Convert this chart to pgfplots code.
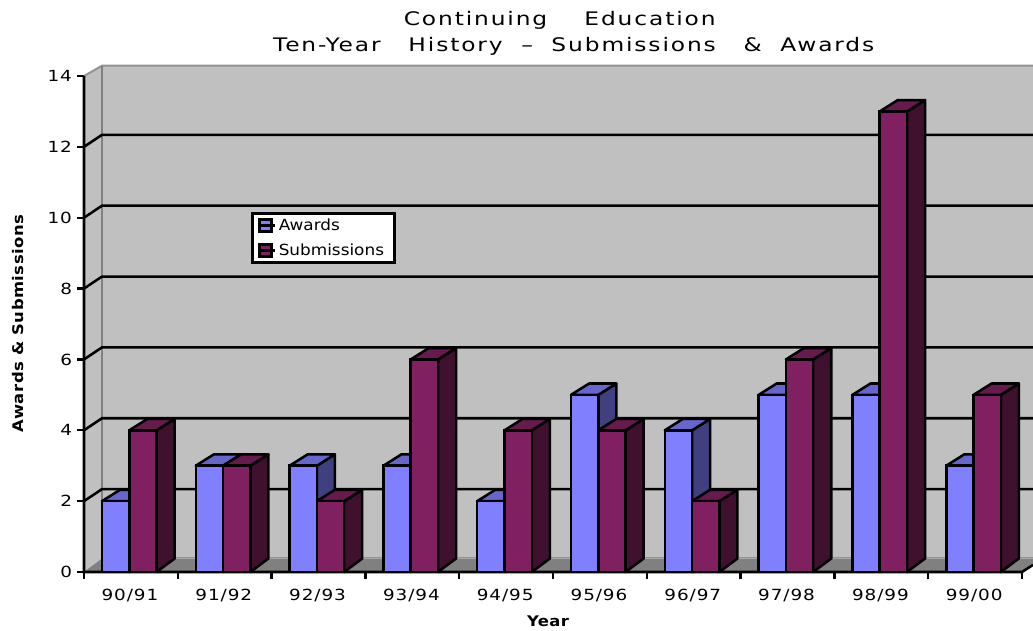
\documentclass[border=0pt]{standalone}
\usepackage{pgfplots}
\usepackage{pgfplotstable}
\pgfplotsset{compat=1.18}
\usepackage{fontspec}
\setmainfont{DejaVu Sans}
\newfontfamily\wide[FakeStretch=1.2,LetterSpace=6]{DejaVu Sans}
\newfontfamily\titlef[FakeStretch=1.25,LetterSpace=10]{DejaVu Sans}
\newfontfamily\legf[FakeStretch=1.1]{DejaVu Sans}
\newfontfamily\wideb[FakeStretch=1.12,LetterSpace=3]{DejaVu Sans Bold}
\definecolor{awF}{HTML}{8080FF}
\definecolor{awT}{HTML}{6666CC}
\definecolor{awS}{HTML}{404080}
\definecolor{suF}{HTML}{802060}
\definecolor{suT}{HTML}{661A4D}
\definecolor{suS}{HTML}{40102F}
\definecolor{wall}{HTML}{C0C0C0}
\definecolor{floorc}{HTML}{808080}
\pgfplotstableread{
idx label awards submissions
0 90/91 2 4
1 91/92 3 3
2 92/93 3 2
3 93/94 3 6
4 94/95 2 4
5 95/96 5 4
6 96/97 4 2
7 97/98 5 6
8 98/99 5 13
9 99/00 3 5
}\datatable
% side and top faces of a bar: #1 left x, #2 value, #3 top colour, #4 side colour
\newcommand\barfaces[4]{%
  \pgfmathsetmacro\xa{#1}%
  \pgfmathsetmacro\xb{#1+0.291}%
  \pgfmathsetmacro\xc{#1+0.291+0.192}%
  \pgfmathsetmacro\xd{#1+0.192}%
  \pgfmathsetmacro\yt{#2}%
  \pgfmathsetmacro\yu{#2+0.32}%
  \edef\doit{\noexpand\addplot[forget plot,fill=#4,draw=black,line width=1.9pt,line join=round] coordinates {(\xb,0) (\xc,0.38) (\xc,\yu) (\xb,\yt)} -- cycle;
  \noexpand\addplot[forget plot,fill=#3,draw=black,line width=1.9pt,line join=round] coordinates {(\xa,\yt) (\xd,\yu) (\xc,\yu) (\xb,\yt)} -- cycle;}%
  \doit
}
\begin{document}
\begin{tikzpicture}
\useasboundingbox (0,0) rectangle (774.75pt,473.25pt);
\begin{axis}[
  at={(63pt,44.25pt)},anchor=south west,
  scale only axis,width=711.75pt,height=379.7pt,
  xmin=0,xmax=10.117,ymin=0,ymax=14.29,
  clip=false,
  axis line style={draw=none},
  xtick pos=bottom,ytick pos=left,tick align=outside,
  xtick={0.5,1.5,...,9.5},
  xticklabels={90/91,91/92,92/93,93/94,94/95,95/96,96/97,97/98,98/99,99/00},
  minor xtick={0,1,...,10},
  ytick={0,2,...,14},
  major tick length=5pt,
  minor tick length=5.5pt,
  x tick style={draw=none},
  minor x tick style={draw=black,line width=1.8pt},
  y tick style={draw=black,line width=1.8pt},
  tick label style={font=\fontsize{11.5}{11.5}\wide},
  /pgf/number format/assume math mode=true,
  xticklabel style={yshift=-4.5pt,xshift=-0.7pt},
  yticklabel style={xshift=-0.5pt},
  title={Continuing\ \ \ \ Education\hspace*{21pt}\\Ten-Year\ \ \ History\ \ –\ \ Submissions\ \ \ \&\ \ Awards},
  title style={align=center,at={(rel axis cs:0.516,1.005)},anchor=south,font=\fontsize{14}{19.5}\titlef,inner sep=0pt},
  xlabel={Year},
  xlabel style={at={(rel axis cs:0.489,-0.097)},anchor=center,font=\fontsize{11}{11}\wideb,inner sep=0pt},
  ylabel={Awards \& Submissions},
  ylabel style={at={(rel axis cs:-0.0695,0.49)},anchor=center,font=\fontsize{11}{11}\wideb,inner sep=0pt},
  legend style={at={(rel axis cs:0.176,0.711)},anchor=north west,draw=black,line width=2pt,fill=white,font=\fontsize{11.5}{11.5}\legf,inner xsep=3pt,inner ysep=2pt,row sep=4.5pt},
  legend cell align=left,
  legend image code/.code={\draw[#1,line width=1.8pt] (1.5pt,-4.5pt) rectangle (10.5pt,4.5pt);\path (0pt,0pt) -- (12.9pt,0pt);},
]
% walls and floor
\addplot[forget plot,fill=wall,draw=none] coordinates {(0.192,0.33) (10.117,0.33) (10.117,14.29) (0.192,14.29)} -- cycle;
\addplot[forget plot,fill=wall,draw=none] coordinates {(0,0) (0,14) (0.192,14.29) (0.192,0.33)} -- cycle;
\addplot[forget plot,fill=floorc,draw=none] coordinates {(0,0) (0.192,0.38) (10.117,0.38) (10.117,0.2) (10,0)} -- cycle;
\addplot[forget plot,floorc!85!white,line width=1.5pt] coordinates {(0,14) (0.192,14.29) (10.117,14.29)};
\addplot[forget plot,floorc,line width=1.9pt] coordinates {(0.192,14.29) (0.192,0.33)};
\addplot[forget plot,floorc!85!white,line width=1pt] coordinates {(0.192,0.4) (10.117,0.4)};
% gridlines
\addplot[forget plot,black,line width=1.9pt] coordinates {(0,2) (0.192,2.34) (10.117,2.34)};
\addplot[forget plot,black,line width=1.9pt] coordinates {(0,4) (0.192,4.34) (10.117,4.34)};
\addplot[forget plot,black,line width=1.9pt] coordinates {(0,6) (0.192,6.34) (10.117,6.34)};
\addplot[forget plot,black,line width=1.9pt] coordinates {(0,8) (0.192,8.34) (10.117,8.34)};
\addplot[forget plot,black,line width=1.9pt] coordinates {(0,10) (0.192,10.34) (10.117,10.34)};
\addplot[forget plot,black,line width=1.9pt] coordinates {(0,12) (0.192,12.34) (10.117,12.34)};
% axes
\addplot[forget plot,black,line width=1.9pt] coordinates {(0,14) (0,0) (10,0) (10.117,0.2)};
% side and top faces
\pgfplotsinvokeforeach{0,...,9}{
  \pgfplotstablegetelem{#1}{awards}\of\datatable
  \let\va\pgfplotsretval
  \pgfplotstablegetelem{#1}{submissions}\of\datatable
  \let\vs\pgfplotsretval
  \barfaces{#1+0.192}{\va}{awT}{awS}
  \barfaces{#1+0.483}{\vs}{suT}{suS}
}
% front faces
\addplot[ybar,bar shift=0pt,bar width=0.291,fill=awF,draw=black,line width=1.9pt]
  table[x expr=\thisrow{idx}+0.3375,y=awards]{\datatable};
\addplot[ybar,bar shift=0pt,bar width=0.291,fill=suF,draw=black,line width=1.9pt]
  table[x expr=\thisrow{idx}+0.6285,y=submissions]{\datatable};
\legend{Awards,Submissions\hspace*{3pt}}
\end{axis}
\end{tikzpicture}
\end{document}
